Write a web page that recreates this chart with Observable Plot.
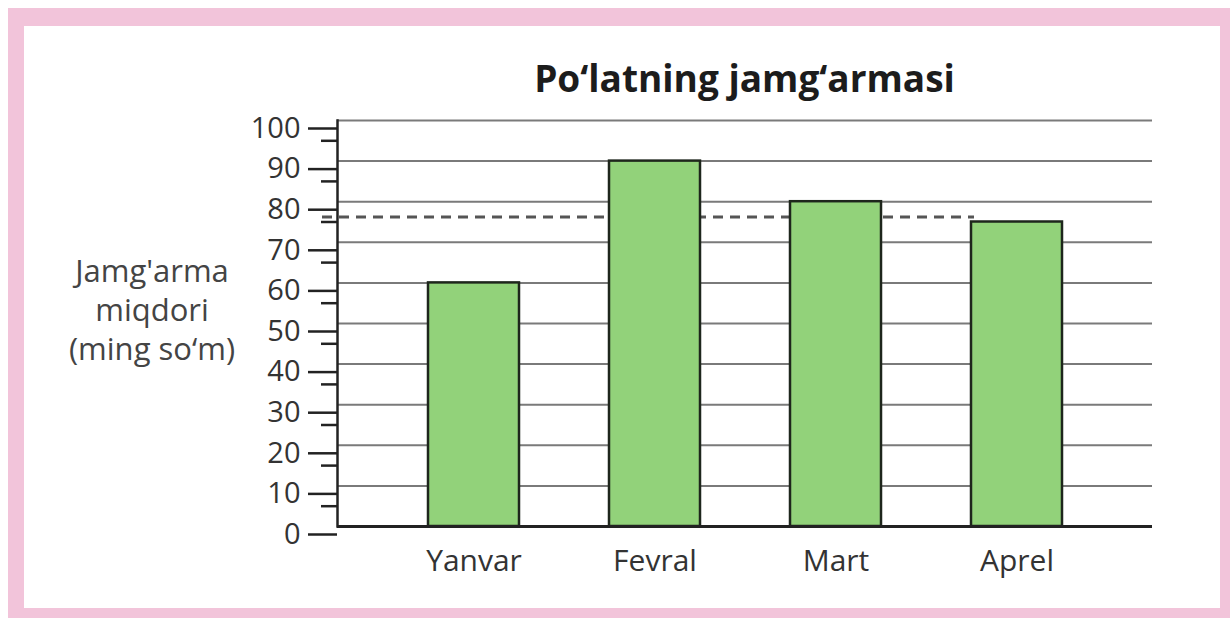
<!DOCTYPE html>
<html>
<head>
<meta charset="utf-8">
<script src="https://cdn.jsdelivr.net/npm/d3@7"></script>
<script src="https://cdn.jsdelivr.net/npm/@observablehq/plot@0.6"></script>
<style>
  html, body { margin: 0; padding: 0; background: #fff; width: 1230px; height: 618px; overflow: hidden; }
  #frame { position: absolute; left: 8px; top: 8px; width: 1222px; height: 610px; box-sizing: border-box;
    border-style: solid; border-color: #f2c4da; border-width: 18px 10px 10px 16px; }
  #title { position: absolute; left: 337px; width: 815px; top: 52px; text-align: center;
    font-family: "Open Sans", sans-serif; font-weight: 700; font-size: 37px; color: #1c1c1c; white-space: nowrap; }
  #ylabel { position: absolute; left: 52px; width: 200px; top: 251px; text-align: center;
    font-family: "Open Sans", sans-serif; font-size: 31px; line-height: 39px; color: #444; white-space: nowrap; }
  #chart { position: absolute; left: 0; top: 100px; }
</style>
</head>
<body>
<div id="frame"></div>
<div id="title">Po‘latning jamg‘armasi</div>
<div id="ylabel">Jamg'arma<br>miqdori<br>(ming so‘m)</div>
<div id="chart"></div>
<script>
const months = ["Yanvar", "Fevral", "Mart", "Aprel"];
const savings = [60, 90, 80, 75];
const majorTicks = [0, 10, 20, 30, 40, 50, 60, 70, 80, 90, 100];
const minorTicks = [5, 15, 25, 35, 45, 55, 65, 75, 85, 95];

const data = months.map((m, i) => ({month: m, value: savings[i]}));
const avg = d3.mean(savings);

const chart = Plot.plot({
  width: 1230,
  height: 500,
  marginTop: 20,
  marginBottom: 74,
  marginLeft: 337,
  marginRight: 78,
  style: {fontFamily: "Open Sans, sans-serif", background: "transparent", color: "#333"},
  x: {domain: months, padding: 0.5, label: null},
  y: {domain: [0, 100], label: null},
  marks: [
    Plot.ruleY(majorTicks.filter(d => d > 0), {stroke: "#7a7a7a", strokeWidth: 2}),
    Plot.ruleY([avg], {x1: [months[0]], x2: [months[months.length - 1]], insetLeft: -106, insetRight: 88,
      stroke: "#555", strokeWidth: 3, strokeDasharray: "10,7"}),
    Plot.barY(data, {x: "month", y: "value", fill: "#92d27a", stroke: "#1e261c", strokeWidth: 2.5}),
    Plot.ruleY([0], {stroke: "#222", strokeWidth: 3}),
    Plot.axisY(minorTicks, {tickSize: 16, text: null, stroke: "#222", strokeWidth: 2.5}),
    Plot.axisY(majorTicks, {tickSize: 29, tickPadding: 8, fontSize: 29, dy: 8, stroke: "#222", strokeWidth: 2.5, fill: "#333"}),
    Plot.frame({anchor: "left", stroke: "#222", strokeWidth: 2.5}),
    Plot.axisX({tickSize: 0, tickPadding: 23, fontSize: 30, fill: "#333"})
  ]
});
document.getElementById("chart").appendChild(chart);
</script>
</body>
</html>
